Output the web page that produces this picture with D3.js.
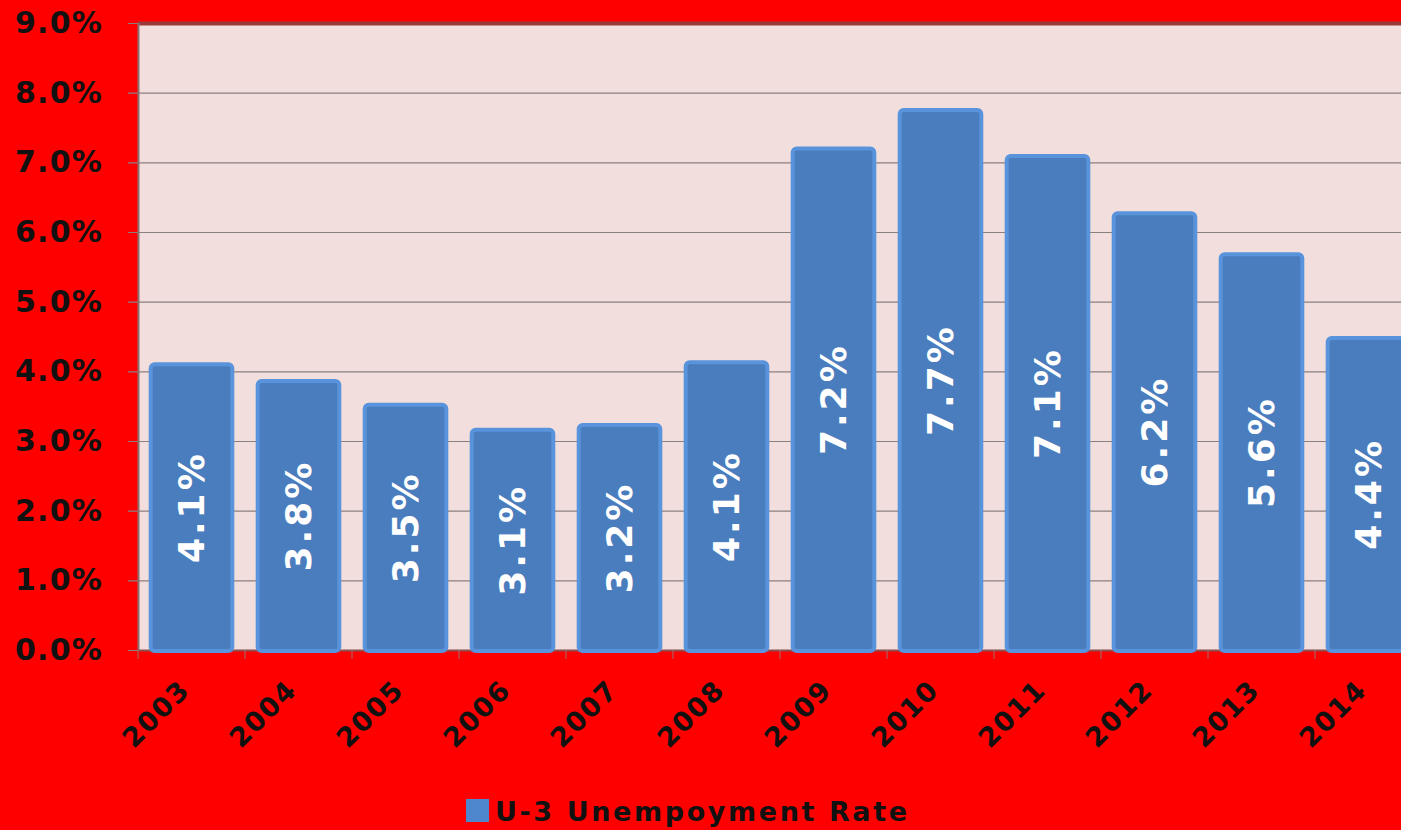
<!DOCTYPE html>
<html>
<head>
    <title>U-3 Unemployment Rate</title>
    <script src="https://d3js.org/d3.v7.min.js"></script>
    <style>
        body { margin: 0; background: #ff0000; overflow: hidden; }
    </style>
</head>
<body>
    <script>
        var years = ["2003", "2004", "2005", "2006", "2007", "2008", "2009", "2010", "2011", "2012", "2013", "2014"];
        var rates = [4.1, 3.86, 3.52, 3.16, 3.23, 4.13, 7.2, 7.75, 7.09, 6.27, 5.68, 4.48];
        var rateLabels = ["4.1%", "3.8%", "3.5%", "3.1%", "3.2%", "4.1%", "7.2%", "7.7%", "7.1%", "6.2%", "5.6%", "4.4%"];
        var yTicks = [0, 1, 2, 3, 4, 5, 6, 7, 8, 9];
        var legendLabel = "U-3 Unempoyment Rate";

        var width = 1401, height = 830;
        var font = "'DejaVu Sans', Verdana, sans-serif";

        var svg = d3.select("body")
            .append("svg")
            .attr("width", width)
            .attr("height", height);

        svg.append("rect")
            .attr("width", width)
            .attr("height", height)
            .attr("fill", "#ff0000");

        var x = d3.scaleBand()
            .domain(years)
            .range([138, 138 + 12 * 107])
            .paddingInner(0.2)
            .paddingOuter(0.1);

        var y = d3.scaleLinear()
            .domain([0, 9])
            .range([650, 23]);

        // plot area
        svg.append("rect")
            .attr("x", 139)
            .attr("y", y(9))
            .attr("width", width - 139)
            .attr("height", y(0) - y(9))
            .attr("fill", "#f2dedc");

        // gridlines + y axis
        var yAxis = d3.axisLeft(y)
            .tickValues(yTicks)
            .tickSize(-(width))
            .tickPadding(35)
            .tickFormat(function(d) { return d.toFixed(1) + "%"; });

        var gy = svg.append("g")
            .attr("transform", "translate(138,0)")
            .call(yAxis);
        gy.select(".domain").remove();
        gy.selectAll(".tick line")
            .attr("x1", -10)
            .attr("stroke", "#8a7f7f")
            .attr("stroke-width", 1.2);
        gy.selectAll(".tick text")
            .attr("font-family", font)
            .attr("font-weight", "bold")
            .attr("font-size", 30)
            .attr("letter-spacing", 1.2)
            .attr("fill", "#111");

        // top border
        svg.append("line")
            .attr("x1", 138).attr("x2", width)
            .attr("y1", y(9) + 0.5).attr("y2", y(9) + 0.5)
            .attr("stroke", "#9b3a3a")
            .attr("stroke-width", 4);

        // left axis line
        svg.append("line")
            .attr("x1", 138.5).attr("x2", 138.5)
            .attr("y1", y(9)).attr("y2", y(0))
            .attr("stroke", "#8a7070")
            .attr("stroke-width", 2);

        // bottom axis
        var xAxis = d3.axisBottom(x).tickSize(0).tickFormat("");
        var gx = svg.append("g")
            .attr("transform", "translate(0," + y(0) + ")")
            .call(xAxis);
        gx.select(".domain")
            .attr("stroke", "#8a5050")
            .attr("stroke-width", 2);

        var bounds = years.map(function(d) { return x(d) - x.step() * x.paddingInner() / 2; });
        bounds.push(x.range()[1]);
        gx.selectAll(".sep")
            .data(bounds)
            .join("line")
            .attr("x1", function(d) { return d; })
            .attr("x2", function(d) { return d; })
            .attr("y1", 0)
            .attr("y2", 9)
            .attr("stroke", "#a07070")
            .attr("stroke-width", 1);

        // bars
        svg.selectAll(".bar")
            .data(rates)
            .join("rect")
            .attr("class", "bar")
            .attr("x", function(d, i) { return x(years[i]) + 2; })
            .attr("y", function(d) { return y(d); })
            .attr("width", x.bandwidth() - 4)
            .attr("height", function(d) { return y(0) - y(d) + 1; })
            .attr("rx", 4)
            .attr("fill", "#4a7dbd")
            .attr("stroke", "#5893dc")
            .attr("stroke-width", 4);

        // value labels
        svg.selectAll(".val")
            .data(rates)
            .join("text")
            .attr("class", "val")
            .attr("transform", function(d, i) {
                var cx = x(years[i]) + x.bandwidth() / 2;
                var cy = (y(d) + y(0)) / 2;
                return "translate(" + cx + "," + cy + ") rotate(-90)";
            })
            .attr("text-anchor", "middle")
            .attr("dy", "0.36em")
            .attr("font-family", font)
            .attr("font-weight", "bold")
            .attr("font-size", 36)
            .attr("letter-spacing", 3)
            .attr("fill", "#ffffff")
            .text(function(d, i) { return rateLabels[i]; });

        // x labels
        svg.selectAll(".xl")
            .data(years)
            .join("text")
            .attr("class", "xl")
            .attr("transform", function(d) {
                return "translate(" + (x(d) + x.bandwidth() / 2 - 14) + "," + 678 + ") rotate(-45)";
            })
            .attr("text-anchor", "end")
            .attr("dy", "0.72em")
            .attr("font-family", font)
            .attr("font-weight", "bold")
            .attr("font-size", 27)
            .attr("letter-spacing", 1.5)
            .attr("fill", "#111")
            .text(function(d) { return d; });

        // legend
        svg.append("rect")
            .attr("x", 466).attr("y", 799)
            .attr("width", 23).attr("height", 23)
            .attr("fill", "#4f87cf");
        svg.append("text")
            .attr("x", 495).attr("y", 821)
            .attr("font-family", font)
            .attr("font-weight", "bold")
            .attr("font-size", 27)
            .attr("letter-spacing", 2.6)
            .attr("fill", "#111")
            .text(legendLabel);
    </script>
</body>
</html>
